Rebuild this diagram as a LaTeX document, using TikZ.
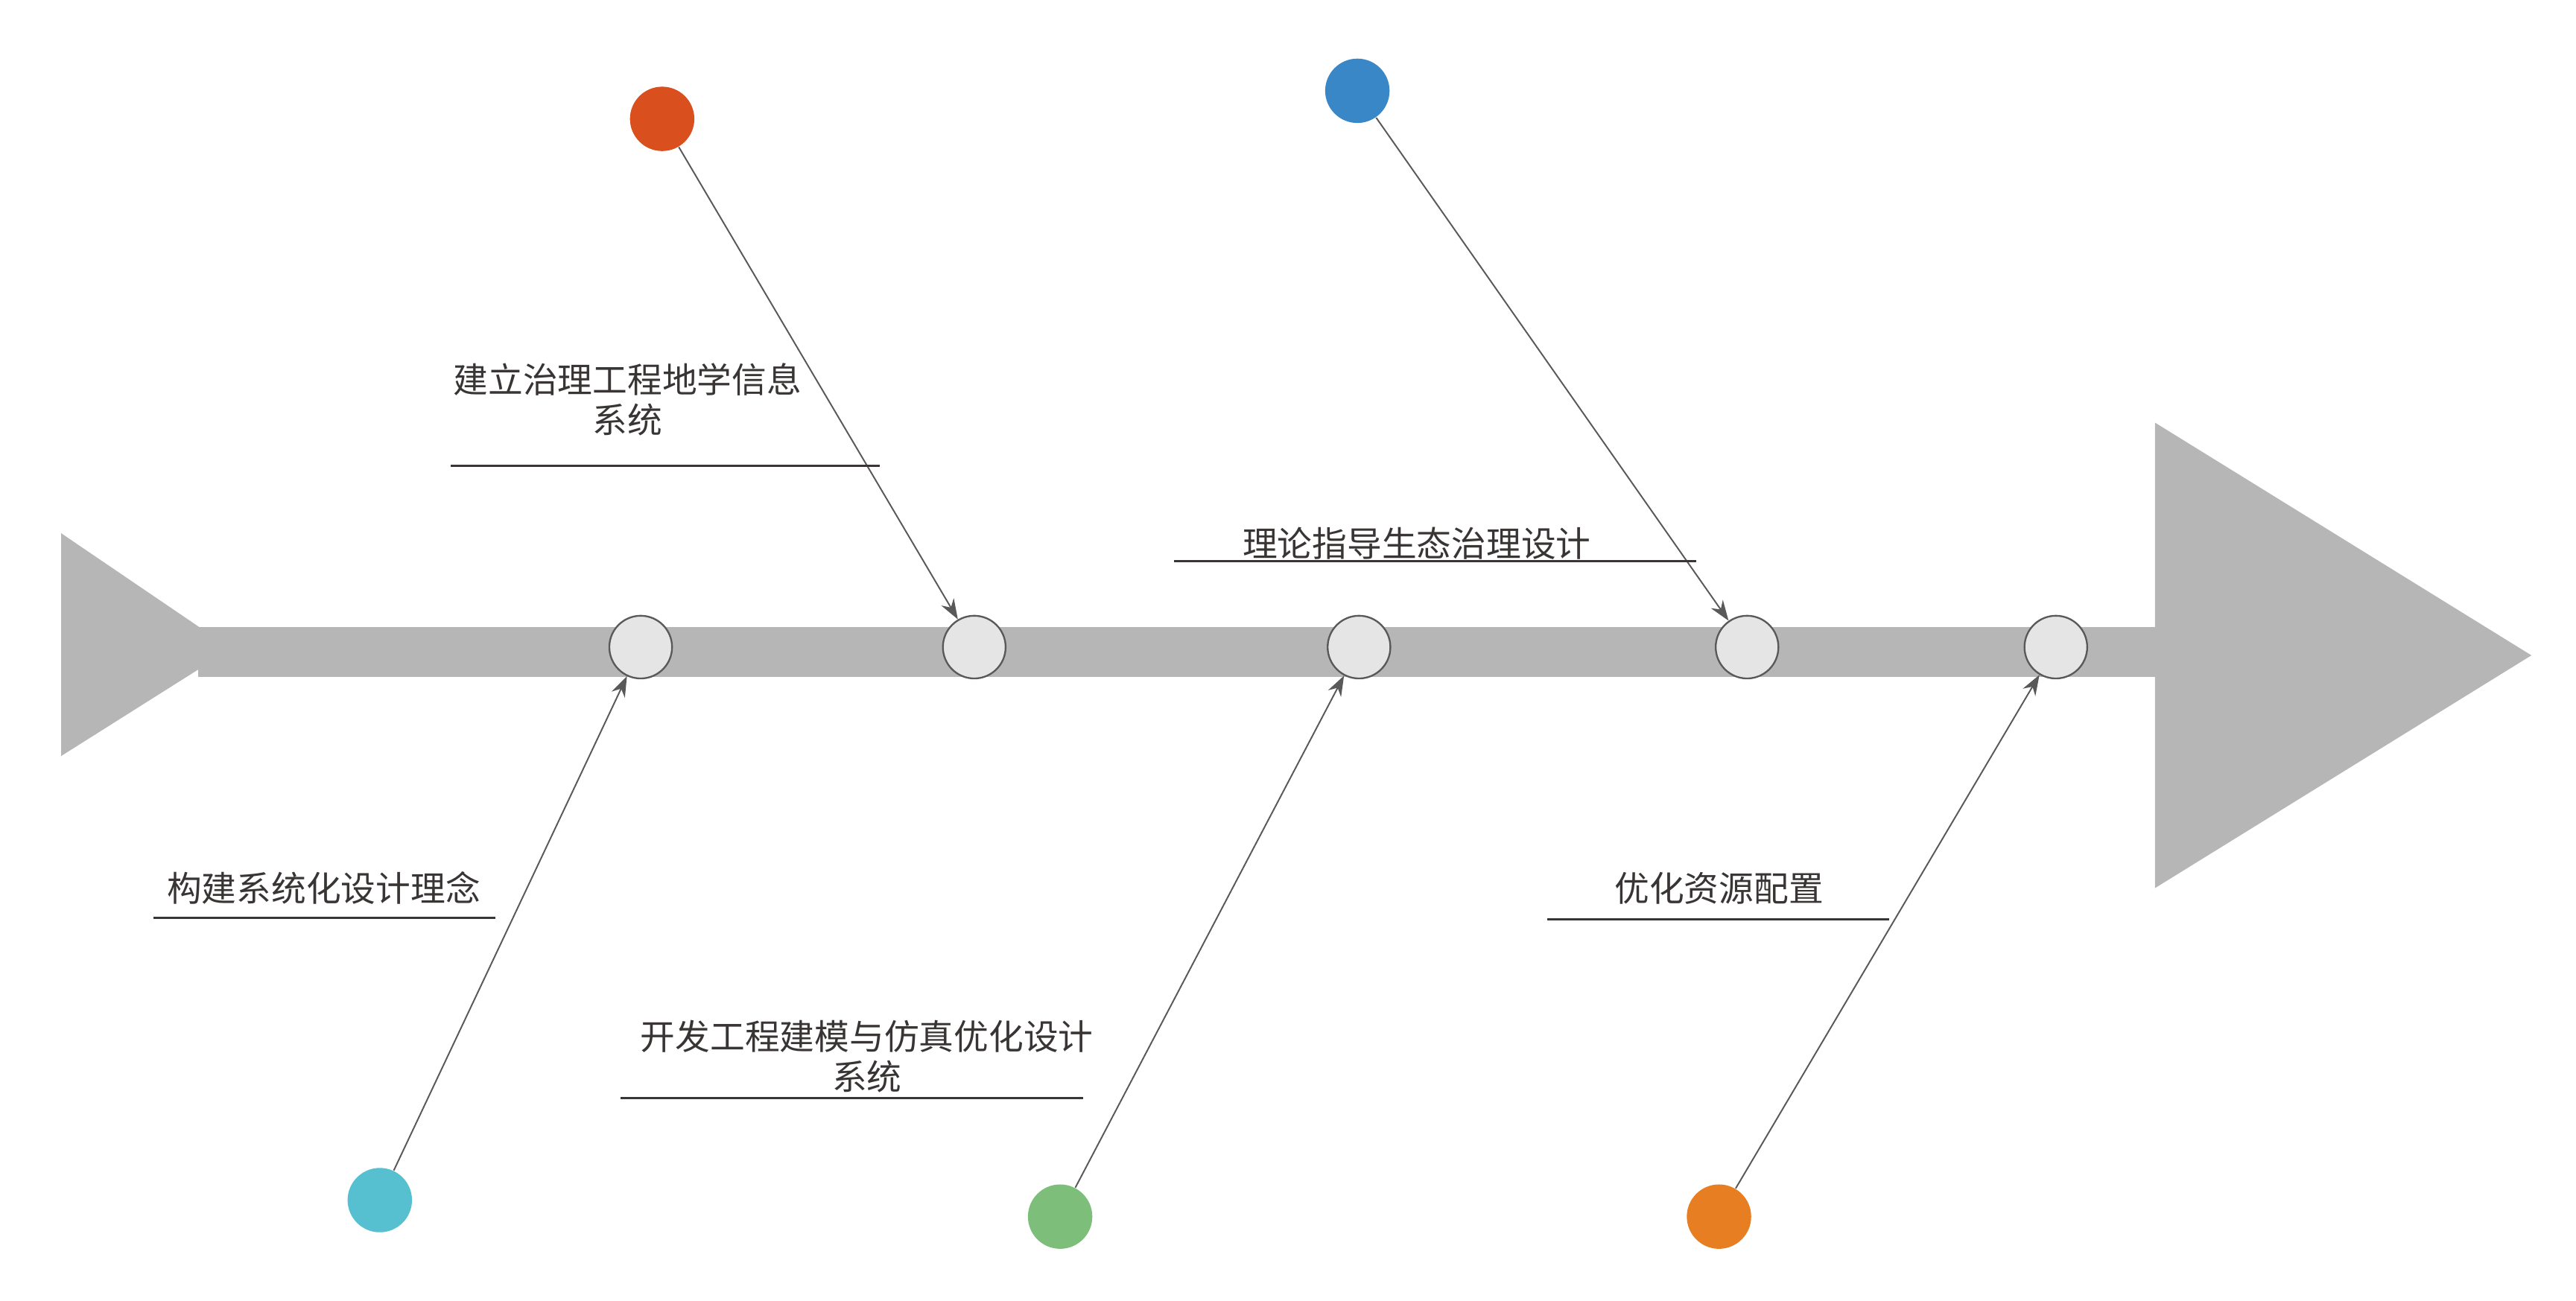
\documentclass[tikz,border=0pt]{standalone}
\usepackage{fontspec}
\newfontfamily\cjk{Noto Sans CJK SC}
\usetikzlibrary{arrows.meta}
\definecolor{spine}{HTML}{B5B6B5}
\definecolor{txt}{HTML}{3A3535}
\definecolor{cA}{HTML}{D9501E}
\definecolor{cB}{HTML}{3A87C8}
\definecolor{cC}{HTML}{56C0D0}
\definecolor{cD}{HTML}{7DBF7A}
\definecolor{cE}{HTML}{E87E22}
\begin{document}
\begin{tikzpicture}[x=0.02cm,y=-0.02cm,
  joint/.style={circle,draw=black!65,line width=0.6pt,fill=black!10,minimum size=0.76cm,inner sep=0},
  dot/.style={circle,minimum size=0.78cm,inner sep=0},
  conn/.style={draw=black!65,line width=0.5pt,-{Stealth[length=7pt,width=5pt]}},
  lab/.style={font=\cjk\fontsize{12pt}{14pt}\selectfont,text=txt,align=center},
  uline/.style={draw=txt,line width=0.8pt}]
\useasboundingbox (0,0) rectangle (1560,788);
\fill[spine] (120,380) rectangle (1310,410);
\fill[spine] (37,323) -- (140,393) -- (37,458) -- cycle;
\fill[spine] (1305,256) -- (1533,397) -- (1305,538) -- cycle;
\foreach \n/\x in {j1/388,j2/590,j3/823,j4/1058,j5/1245} \node[joint] (\n) at (\x,392) {};
\node[dot,fill=cA] (d1) at (401,72) {};
\node[dot,fill=cB] (d2) at (822,55) {};
\node[dot,fill=cC] (d3) at (230,727) {};
\node[dot,fill=cD] (d4) at (642,737) {};
\node[dot,fill=cE] (d5) at (1041,737) {};
\draw[conn] (d1) -- (j2);
\draw[conn] (d2) -- (j4);
\draw[conn] (d3) -- (j1);
\draw[conn] (d4) -- (j3);
\draw[conn] (d5) -- (j5);
\node[lab] (t1) at (380,242) {建立治理工程地学信息\\系统};
\coordinate (a1) at (273,282); \coordinate (b1) at (533,282); \draw[uline] (a1) -- (b1);
\node[lab] (t2) at (858,329) {理论指导生态治理设计};
\coordinate (a2) at (711,340); \coordinate (b2) at (1027,340); \draw[uline] (a2) -- (b2);
\node[lab] (t3) at (196,538) {构建系统化设计理念};
\coordinate (a3) at (93,556); \coordinate (b3) at (300,556); \draw[uline] (a3) -- (b3);
\node[lab] (t4) at (525,640) {开发工程建模与仿真优化设计\\系统};
\coordinate (a4) at (376,665); \coordinate (b4) at (656,665); \draw[uline] (a4) -- (b4);
\node[lab] (t5) at (1041,538) {优化资源配置};
\coordinate (a5) at (937,557); \coordinate (b5) at (1144,557); \draw[uline] (a5) -- (b5);
\end{tikzpicture}
\end{document}
